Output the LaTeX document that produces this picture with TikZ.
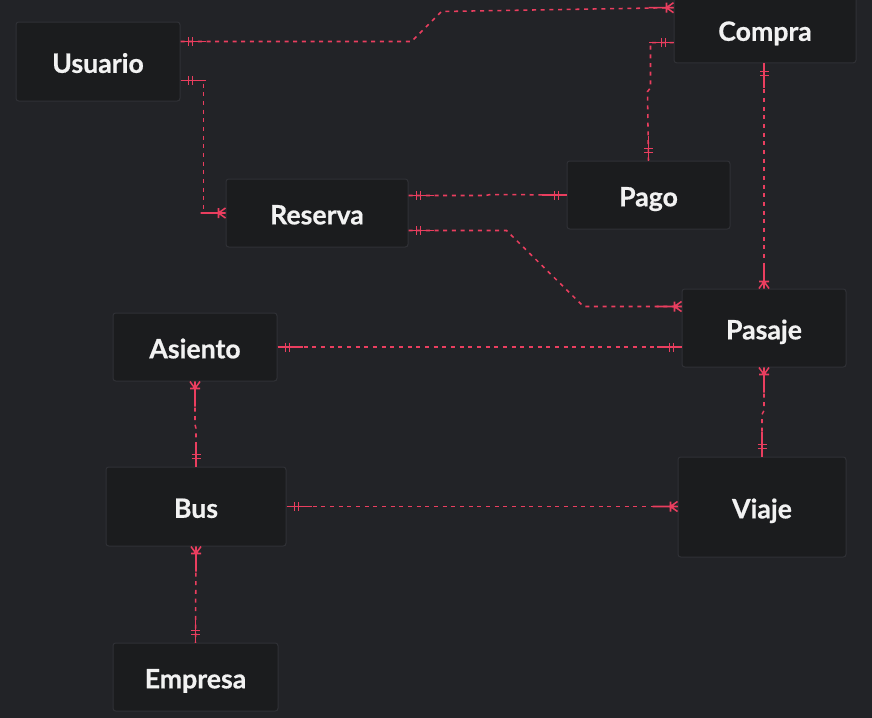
\documentclass[tikz,border=0pt]{standalone}
\usepackage{fontspec}
\setmainfont{Lato}[BoldFeatures={FakeBold=0.6}]
\usetikzlibrary{calc}
\definecolor{bg}{RGB}{34,35,39}
\definecolor{boxfill}{RGB}{27,28,30}
\definecolor{boxline}{RGB}{48,49,54}
\definecolor{relc}{RGB}{234,62,95}
\definecolor{txt}{RGB}{242,242,242}
\tikzset{
  entity/.style={draw=boxline, line width=0.75pt, fill=boxfill, rounded corners=2pt,
    text=txt, font=\fontsize{20}{24}\selectfont\bfseries, inner sep=0pt,
    text height=17pt, text depth=0pt},
  relline/.style={draw=relc, line width=1.15pt, dash pattern=on 3pt off 3.5pt},
  relsolid/.style={draw=relc, line width=1.15pt, solid},
}
\newcommand\erOne[2]{%
  \begin{scope}[shift={(#1)}, rotate=#2]
    \draw[relsolid] (0,0) -- (25,0) (8,-4.5) -- (8,4.5) (12,-4.5) -- (12,4.5);
  \end{scope}}
\newcommand\erMany[2]{%
  \begin{scope}[shift={(#1)}, rotate=#2]
    \draw[relsolid] (0,0) -- (25,0) (7,-5) -- (7,5) (7,0) -- (0,-5) (7,0) -- (0,5);
  \end{scope}}
\begin{document}
\begin{tikzpicture}[x=0.75pt, y=-0.75pt]
\fill[bg] (0,0) rectangle (872,718);
\useasboundingbox (0,0) rectangle (872,718);

% entities
\node[entity, minimum width=123pt, minimum height=59.25pt] (usuario) at (98,61.5) {Usuario};
\node[entity, minimum width=136.5pt, minimum height=50pt] (compra) at (765,29.5) {Compra};
\node[entity, minimum width=122.25pt, minimum height=51pt] (pago) at (648.5,195) {Pago};
\node[entity, minimum width=136.5pt, minimum height=51pt] (reserva) at (317,213) {Reserva};
\node[entity, minimum width=123pt, minimum height=51pt] (asiento) at (195,347) {Asiento};
\node[entity, minimum width=123pt, minimum height=58.5pt] (pasaje) at (764,328) {Pasaje};
\node[entity, minimum width=135pt, minimum height=59.25pt] (bus) at (196,506.5) {Bus};
\node[entity, minimum width=126pt, minimum height=75pt] (viaje) at (762,507) {Viaje};
\node[entity, minimum width=123.75pt, minimum height=51pt] (empresa) at (195.5,677) {Empresa};

% connection points
\coordinate (uc1) at ($(usuario.north east)+(0,20)$);
\coordinate (uc2) at ($(compra.north west)+(0,12)$);
\coordinate (ur1) at ($(usuario.north east)+(0,59)$);
\coordinate (ur2) at (reserva.west);
\coordinate (cp1) at ($(compra.north west)+(0,47)$);
\coordinate (cp2) at (pago.north);
\coordinate (cs1) at (pasaje.north |- compra.south);
\coordinate (cs2) at (pasaje.north);
\coordinate (rp1) at ($(reserva.north east)+(0,17)$);
\coordinate (rp2) at (pago.west);
\coordinate (rs1) at ($(reserva.north east)+(0,52)$);
\coordinate (rs2) at ($(pasaje.north west)+(0,18)$);
\coordinate (ap1) at (asiento.east);
\coordinate (ap2) at (asiento.east -| pasaje.west);
\coordinate (ab1) at (asiento.south);
\coordinate (ab2) at (bus.north);
\coordinate (pv1) at (pasaje.south);
\coordinate (pv2) at (viaje.north);
\coordinate (bv1) at (bus.east);
\coordinate (bv2) at (bus.east -| viaje.west);
\coordinate (be1) at (bus.south);
\coordinate (be2) at (empresa.north);

% connectors
\draw[relline] (uc1) -- ++(231,0) -- ++(30,-30) -- (uc2);
\draw[relline] (ur1) -- ++(23,0) |- (ur2);
\draw[relline] (cp1) -- ++(-23,0) -- ++(0,45) -- ++(-3,4) -- (cp2);
\draw[relline] (cs1) -- (cs2);
\draw[relline] (rp1) -- ++(77,0) -- ++(5,-1) -- (rp2);
\draw[relline] (rs1) -- ++(98,0) -- ++(77,76) -- (rs2);
\draw[relline] (ap1) -- (ap2);
\draw[relline] (ab1) -- ++(0,43) -- ++(1,4) -- (ab2);
\draw[relline] (pv1) -- ++(0,43) -- ++(-2,4) -- (pv2);
\draw[relline] (bv1) -- (bv2);
\draw[relline] (be1) -- (be2);

% cardinality markers
\erOne{uc1}{0}   \erMany{uc2}{180}
\erOne{ur1}{0}   \erMany{ur2}{180}
\erOne{cp1}{180} \erOne{cp2}{90}
\erOne{cs1}{-90} \erMany{cs2}{90}
\erOne{rp1}{0}   \erOne{rp2}{180}
\erOne{rs1}{0}   \erMany{rs2}{180}
\erOne{ap1}{0}   \erOne{ap2}{180}
\erMany{ab1}{-90} \erOne{ab2}{90}
\erMany{pv1}{-90} \erOne{pv2}{90}
\erOne{bv1}{0}   \erMany{bv2}{180}
\erMany{be1}{-90} \erOne{be2}{90}
\end{tikzpicture}
\end{document}
